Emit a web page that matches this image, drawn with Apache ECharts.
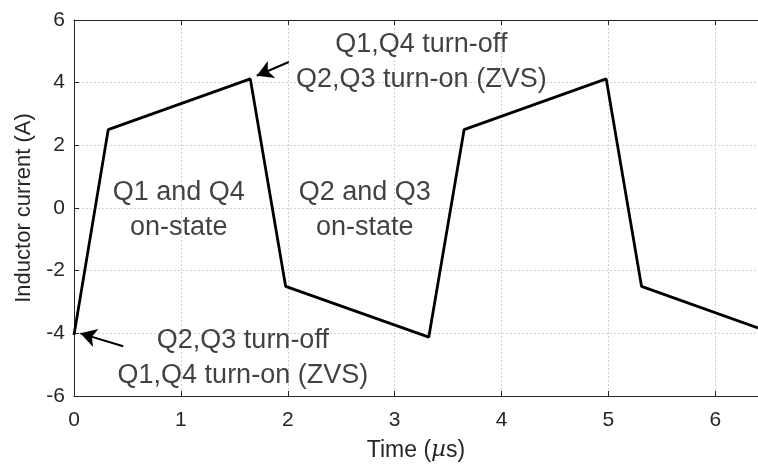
<!DOCTYPE html>
<html>
<head>
<meta charset="utf-8">
<script src="https://cdn.jsdelivr.net/npm/echarts@6/dist/echarts.min.js"></script>
<style>html,body{margin:0;padding:0;background:#fff}#c{width:758px;height:468px}</style>
</head>
<body>
<div id="c"></div>
<script>
// Data
var timeUs = [0, 0.32, 1.65, 1.98, 3.32, 3.65, 4.98, 5.31, 6.4];
var currentA = [-4.05, 2.5, 4.12, -2.5, -4.12, 2.5, 4.12, -2.5, -3.83];
var xTicks = [0, 1, 2, 3, 4, 5, 6];
var yTicks = [-6, -4, -2, 0, 2, 4, 6];
var noteTexts = ['Q1 and Q4\non-state', 'Q2 and Q3\non-state', 'Q1,Q4 turn-off\nQ2,Q3 turn-on (ZVS)', 'Q2,Q3 turn-off\nQ1,Q4 turn-on (ZVS)'];
var noteX = [0.98, 2.72, 3.25, 1.58];
var noteY = [-0.08, -0.08, 4.65, -4.78];
var arrowFrom = [[2.01, 4.66], [0.46, -4.41]];
var arrowTo = [[1.71, 4.22], [0.06, -4.0]];

var FONT = 'Liberation Sans, Arial, sans-serif';
var AX = '#262626';
var pts = timeUs.map(function (t, i) { return [t, currentA[i]]; });
var notes = noteTexts.map(function (s, i) { return { value: [noteX[i], noteY[i]], label: { formatter: s } }; });
var arrows = arrowFrom.map(function (f, i) { return [{ coord: f }, { coord: arrowTo[i] }]; });

var chart = echarts.init(document.getElementById('c'), null, { renderer: 'canvas' });
chart.setOption({
  animation: false,
  backgroundColor: '#fff',
  grid: { left: 74, right: 0, top: 20, bottom: 72, containLabel: false },
  xAxis: [{
    type: 'value', min: 0, max: 6.4, interval: 1,
    name: 'Time ({i|µ}s)', nameLocation: 'middle', nameGap: 43,
    nameTextStyle: { fontFamily: FONT, fontSize: 23, color: AX, rich: { i: { fontStyle: 'italic', fontFamily: 'DejaVu Serif', fontSize: 23, color: AX } } },
    axisLine: { show: true, onZero: false, lineStyle: { color: AX, width: 1 } },
    axisTick: { show: true, inside: true, length: 5, lineStyle: { color: AX } },
    axisLabel: { fontFamily: FONT, fontSize: 21, color: AX, margin: 14, showMaxLabel: false,
      formatter: function (v) { return xTicks.indexOf(v) >= 0 ? String(v) : ''; } },
    splitLine: { show: true, lineStyle: { color: '#d0d0d0', type: [2, 2], width: 1 } }
  }, {
    type: 'value', min: 0, max: 6.4, interval: 1, position: 'top',
    axisLine: { show: true, onZero: false, lineStyle: { color: AX, width: 1 } },
    axisTick: { show: true, inside: true, length: 5, lineStyle: { color: AX } },
    axisLabel: { show: false }, splitLine: { show: false }
  }],
  yAxis: [{
    type: 'value', min: -6, max: 6, interval: 2,
    name: 'Inductor current (A)', nameLocation: 'middle', nameGap: 38,
    nameTextStyle: { fontFamily: FONT, fontSize: 22, color: AX },
    axisLine: { show: true, onZero: false, lineStyle: { color: AX, width: 1 } },
    axisTick: { show: true, inside: true, length: 5, lineStyle: { color: AX } },
    axisLabel: { fontFamily: FONT, fontSize: 21, color: AX, margin: 9,
      formatter: function (v) { return yTicks.indexOf(v) >= 0 ? String(v) : ''; } },
    splitLine: { show: true, lineStyle: { color: '#d0d0d0', type: [2, 2], width: 1 } }
  }],
  series: [{
    type: 'line', data: pts, showSymbol: false, symbol: 'none',
    lineStyle: { color: '#000', width: 2.8 }, z: 5,
    markLine: {
      silent: true, symbol: ['none', 'arrow'], symbolSize: [14, 16], precision: 3,
      lineStyle: { color: '#000', width: 2, type: 'solid' }, label: { show: false },
      data: arrows
    }
  }, {
    type: 'scatter', data: notes, symbolSize: 1, itemStyle: { color: 'rgba(0,0,0,0)' }, z: 6,
    label: { show: true, position: 'inside', fontFamily: FONT, fontSize: 27, lineHeight: 35, color: '#111', align: 'center', verticalAlign: 'middle' }
  }]
});
</script>
</body>
</html>
